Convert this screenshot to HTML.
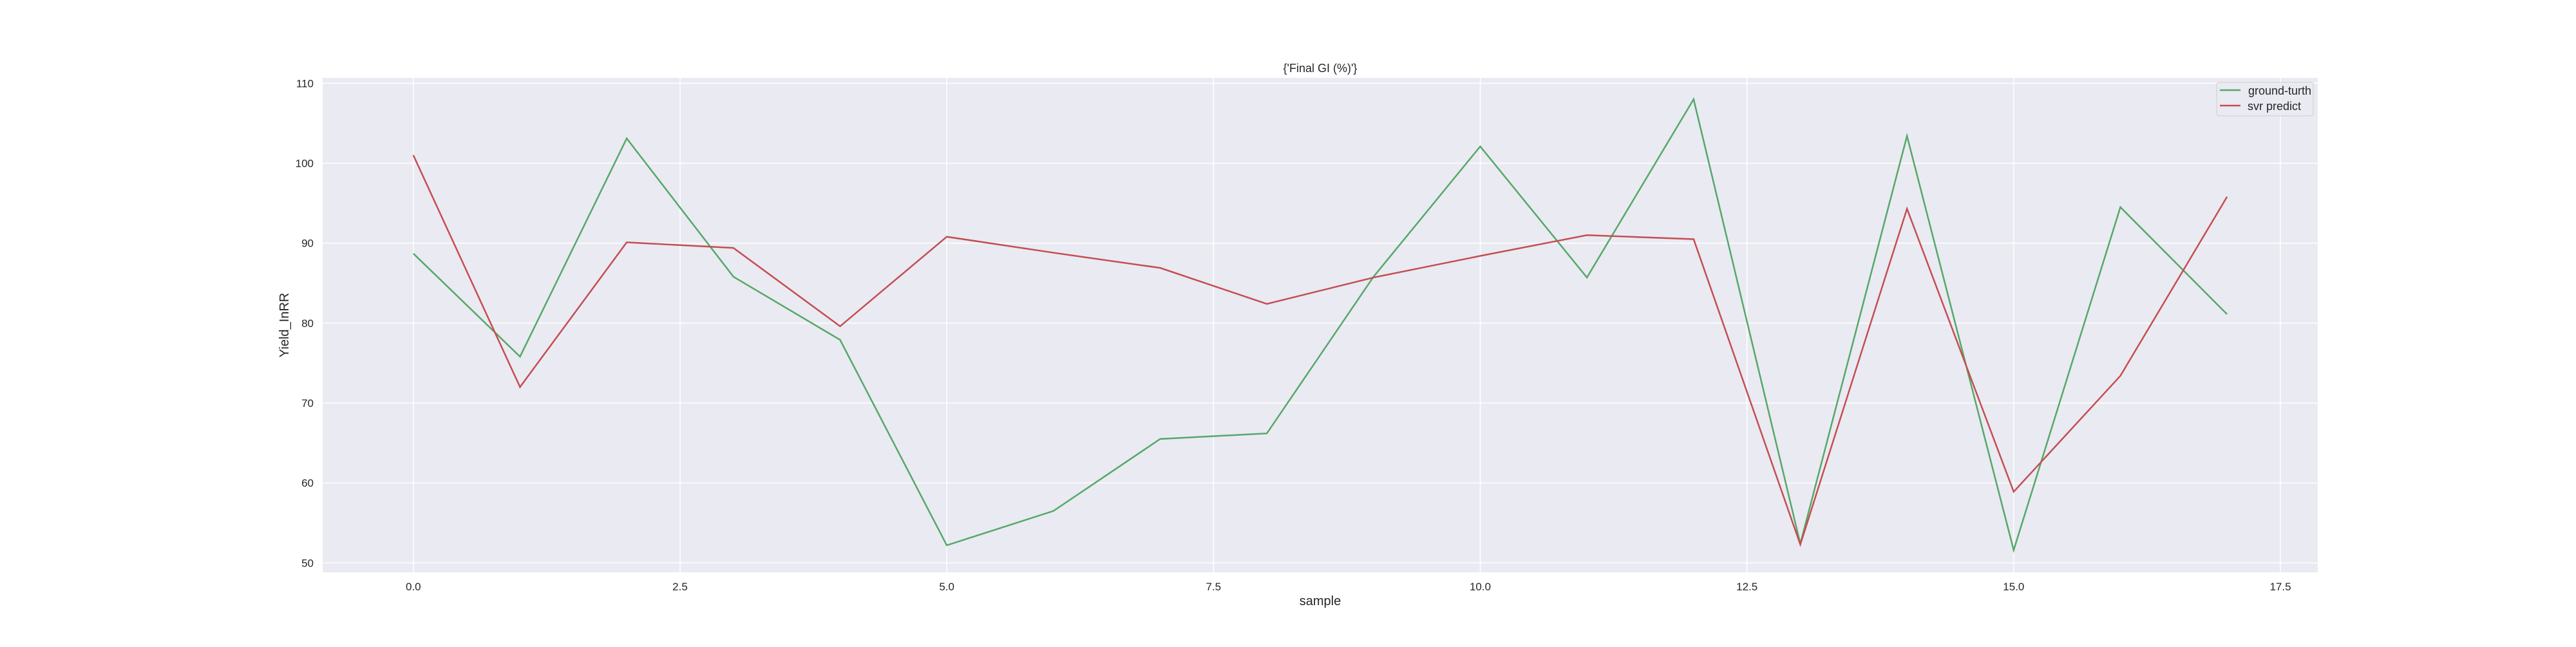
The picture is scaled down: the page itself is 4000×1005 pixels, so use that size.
<!DOCTYPE html>
<html><head><meta charset="utf-8"><style>
html,body{margin:0;padding:0;background:#fff;}
svg text{font-family:"Liberation Sans","DejaVu Sans",sans-serif;fill:#262626;}
</style></head><body>
<svg id="chart" width="4000" height="1000" xmlns="http://www.w3.org/2000/svg">
<rect x="501" y="121" width="3098" height="768" fill="#eaeaf2"/>
<g id="grid"></g>
<g id="ticks"></g>
<g id="series"></g>
<text x="2050" y="112" font-size="18" text-anchor="middle">{'Final GI (%)'}</text>
<text x="2050" y="940" font-size="20" text-anchor="middle">sample</text>
<text x="448" y="505" font-size="20" text-anchor="middle" transform="rotate(-90 448 505)">Yield_InRR</text>
<g>
<rect x="3442" y="128" width="150" height="52" rx="4" fill="#eaeaf2" fill-opacity="0.8" stroke="#cccccc" stroke-width="1"/>
<line x1="3447" y1="140" x2="3479" y2="140" stroke="#55a868" stroke-width="2.5"/>
<text x="3491" y="147" font-size="18">ground-turth</text>
<line x1="3447" y1="164" x2="3479" y2="164" stroke="#c44e52" stroke-width="2.5"/>
<text x="3490" y="171" font-size="18">svr predict</text>
</g>
</svg>
<script>
const samples = [0,1,2,3,4,5,6,7,8,9,10,11,12,13,14,15,16,17];
const groundTruth = [88.7,75.8,103.1,85.8,77.9,52.2,56.5,65.5,66.2,85.8,102.1,85.7,108.0,52.4,103.4,51.6,94.5,81.1];
const svrPredict = [101.0,72.0,90.1,89.4,79.6,90.8,88.8,86.9,82.4,85.7,88.4,91.0,90.5,52.3,94.3,58.9,73.4,95.8];
const xTicks = [0,2.5,5,7.5,10,12.5,15,17.5];
const xTickLabels = ["0.0","2.5","5.0","7.5","10.0","12.5","15.0","17.5"];
const yTicks = [50,60,70,80,90,100,110];
const yTickLabels = ["50","60","70","80","90","100","110"];

const X0=501,X1=3599,Y0=121,Y1=889;
const xMin=-0.85,xMax=17.85,yMin=48.82,yMax=110.67;
function sx(v){return X0+(v-xMin)/(xMax-xMin)*(X1-X0);}
function sy(v){return Y1-(v-yMin)/(yMax-yMin)*(Y1-Y0);}
const NS="http://www.w3.org/2000/svg";
const grid=document.getElementById('grid');
const ticks=document.getElementById('ticks');
xTicks.forEach((t,i)=>{
  const l=document.createElementNS(NS,'line');
  
  
  l.setAttribute('x1',sx(t));l.setAttribute('x2',sx(t));l.setAttribute('y1',Y0);l.setAttribute('y2',Y1);
  l.setAttribute('stroke','#fff');l.setAttribute('stroke-width','1.5');
  grid.appendChild(l);
  const tx=document.createElementNS(NS,'text');
  
  
  tx.setAttribute('x',sx(t));tx.setAttribute('y',917);tx.setAttribute('font-size','17');tx.setAttribute('text-anchor','middle');
  tx.textContent=xTickLabels[i];
  ticks.appendChild(tx);
});
yTicks.forEach((t,i)=>{
  const l=document.createElementNS(NS,'line');
  
  
  l.setAttribute('x1',X0);l.setAttribute('x2',X1);l.setAttribute('y1',sy(t));l.setAttribute('y2',sy(t));
  l.setAttribute('stroke','#fff');l.setAttribute('stroke-width','1.5');
  grid.appendChild(l);
  const tx=document.createElementNS(NS,'text');
  
  
  tx.setAttribute('x',487);tx.setAttribute('y',sy(t)+6);tx.setAttribute('font-size','17');tx.setAttribute('text-anchor','end');
  tx.textContent=yTickLabels[i];
  ticks.appendChild(tx);
});
const series=document.getElementById('series');
function drawLine(vals,color,name){
  const p=document.createElementNS(NS,'polyline');
  
  
  p.setAttribute('points',vals.map((v,i)=>sx(samples[i])+','+sy(v)).join(' '));
  p.setAttribute('fill','none');p.setAttribute('stroke',color);p.setAttribute('stroke-width','2.5');
  series.appendChild(p);
}
drawLine(groundTruth,'#55a868','ground-truth-line');
drawLine(svrPredict,'#c44e52','svr-predict-line');
</script>
</body></html>
